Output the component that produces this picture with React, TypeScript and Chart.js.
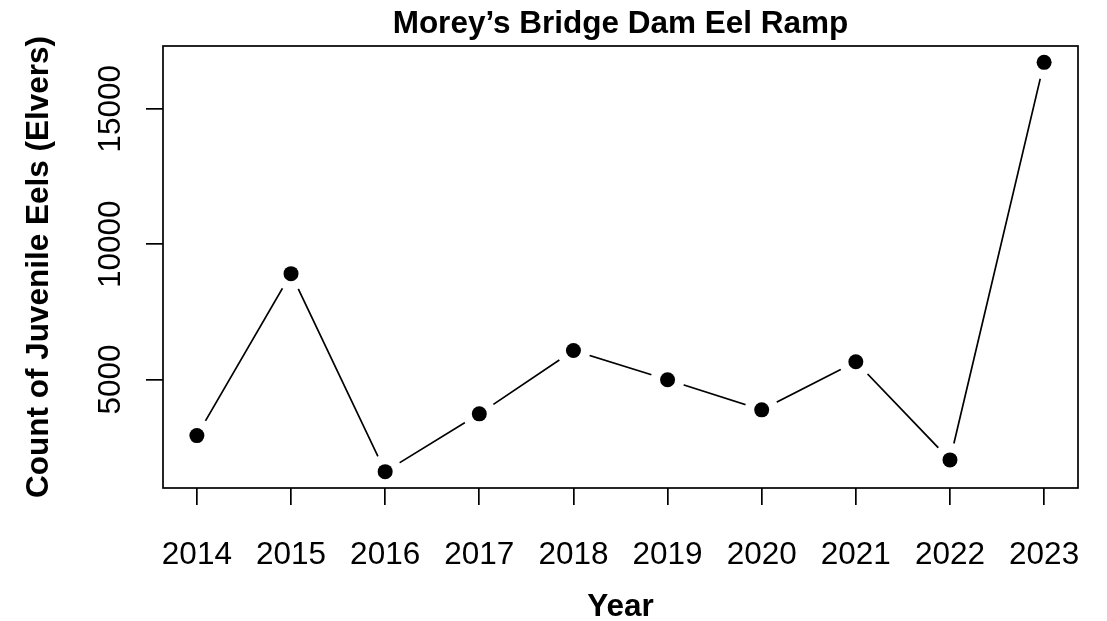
import React, { useEffect, useRef } from "react";
import { Chart, registerables } from "chart.js";

Chart.register(...registerables);

const years: number[] = [2014, 2015, 2016, 2017, 2018, 2019, 2020, 2021, 2022, 2023];
const counts: number[] = [2928, 8911, 1596, 3731, 6073, 4989, 3879, 5655, 2029, 16717];
const yTickValues: number[] = [5000, 10000, 15000];
const xTickValues: number[] = years;

const TITLE = "Morey\u2019s Bridge Dam Eel Ramp";
const X_TITLE = "Year";
const Y_TITLE = "Count of Juvenile Eels (Elvers)";

const FONT = "'Liberation Sans', Arial, Helvetica, sans-serif";
const LW = 1.7;

const boxPlugin = {
  id: "plotBox",
  afterDatasetsDraw(chart: any) {
    const { ctx, chartArea } = chart;
    ctx.save();
    ctx.strokeStyle = "#000";
    ctx.lineWidth = LW;
    ctx.strokeRect(chartArea.left, chartArea.top, chartArea.right - chartArea.left, chartArea.bottom - chartArea.top);
    ctx.restore();
  },
};

export default function App() {
  const ref = useRef<HTMLCanvasElement | null>(null);

  useEffect(() => {
    if (!ref.current) return;
    const pts = years.map((y, i) => ({ x: y, y: counts[i] }));
    const xr = years[years.length - 1] - years[0];
    const ymin = Math.min(...counts);
    const ymax = Math.max(...counts);
    const yr = ymax - ymin;

    const chart = new Chart(ref.current, {
      type: "line",
      data: {
        datasets: [
          {
            data: pts,
            borderColor: "#000",
            borderWidth: LW,
            pointRadius: 0,
            tension: 0,
            fill: false,
            order: 3,
          },
          {
            data: pts,
            showLine: false,
            pointRadius: 17,
            pointHoverRadius: 17,
            pointBackgroundColor: "#fff",
            pointBorderWidth: 0,
            order: 2,
          },
          {
            data: pts,
            showLine: false,
            pointRadius: 7.5,
            pointHoverRadius: 7.5,
            pointBackgroundColor: "#000",
            pointBorderWidth: 0,
            order: 1,
          },
        ],
      },
      options: {
        responsive: false,
        animation: false,
        events: [],
        layout: { padding: { left: 0, top: 0, right: 29, bottom: 0 } },
        plugins: {
          legend: { display: false },
          tooltip: { enabled: false },
          title: {
            display: true,
            text: TITLE,
            fullSize: false,
            color: "#000",
            font: { family: FONT, size: 31.5, weight: "bold", lineHeight: 1.2 },
            padding: { top: 5, bottom: 3.2 },
          },
        },
        scales: {
          x: {
            type: "linear",
            min: years[0] - 0.04 * xr,
            max: years[years.length - 1] + 0.04 * xr,
            afterBuildTicks: (scale: any) => {
              scale.ticks = xTickValues.map((v) => ({ value: v }));
            },
            afterFit: (scale: any) => {
              scale.height = 133;
              scale.paddingLeft = 0;
              scale.paddingRight = 0;
              scale.paddingTop = 0;
              scale.paddingBottom = 0;
            },
            border: { display: false },
            grid: {
              display: true,
              drawOnChartArea: false,
              drawTicks: true,
              tickLength: 17,
              color: "#000",
              lineWidth: LW,
            },
            ticks: {
              color: "#000",
              font: { family: FONT, size: 31.5, lineHeight: 1.2 },
              padding: 31.1,
              maxRotation: 0,
              minRotation: 0,
              autoSkip: false,
              callback: (v: any) => String(v),
            },
            title: {
              display: true,
              text: X_TITLE,
              color: "#000",
              font: { family: FONT, size: 31.5, weight: "bold", lineHeight: 1 },
              padding: { top: 0, bottom: -2.25 },
            },
          },
          y: {
            type: "linear",
            min: ymin - 0.04 * yr,
            max: ymax + 0.04 * yr,
            afterBuildTicks: (scale: any) => {
              scale.ticks = yTickValues.map((v) => ({ value: v }));
            },
            afterFit: (scale: any) => {
              scale.width = 163;
              scale.paddingLeft = 0;
              scale.paddingRight = 0;
              scale.paddingTop = 0;
              scale.paddingBottom = 0;
            },
            border: { display: false },
            grid: {
              display: true,
              drawOnChartArea: false,
              drawTicks: true,
              tickLength: 17,
              color: "#000",
              lineWidth: LW,
            },
            ticks: {
              color: "#000",
              font: { family: FONT, size: 31.5, lineHeight: 1.2 },
              padding: -8.8,
              minRotation: 90,
              maxRotation: 90,
              crossAlign: "center",
              autoSkip: false,
              callback: (v: any) => String(v),
            },
            title: {
              display: true,
              text: Y_TITLE,
              color: "#000",
              font: { family: FONT, size: 31.5, weight: "bold", lineHeight: 1 },
              padding: { top: 23.5, bottom: 0 },
            },
          },
        },
      },
      plugins: [boxPlugin],
    } as any);

    return () => chart.destroy();
  }, []);

  return (
    <div style={{ position: "fixed", left: 0, top: 0, width: 1107, height: 621, background: "#fff" }}>
      <canvas ref={ref} width={1107} height={621} style={{ display: "block" }} />
    </div>
  );
}
